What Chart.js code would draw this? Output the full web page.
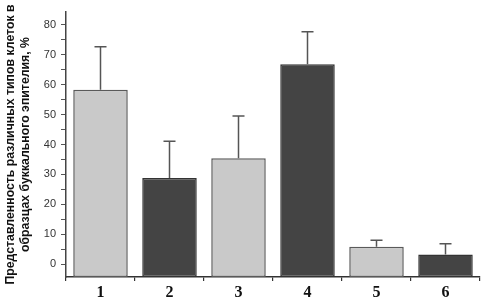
<!DOCTYPE html>
<html>
<head>
<meta charset="utf-8">
<script src="https://cdn.jsdelivr.net/npm/chart.js@4"></script>
<style>
  html, body { margin: 0; padding: 0; background: #fff; }
  #wrap { width: 483px; height: 307px; }
</style>
</head>
<body>
<div id="wrap"><canvas id="c"></canvas></div>
<script>
// data
const categories = ["1", "2", "3", "4", "5", "6"];
const values = [58.3, 28.8, 35.4, 66.8, 5.8, 3.2];
const errors = [14.4, 12.3, 14.1, 10.9, 2.2, 3.6];
const yTicks = [0, 5, 10, 15, 20, 25, 30, 35, 40, 45, 50, 55, 60, 65, 70, 75, 80];
const yTitle = ["Представленность различных типов клеток в", "образцах буккального эпителия, %"];

const Y_MIN = -4.3, Y_MAX = 84.3;
const LIGHT = "#c9c9c9", DARK = "#444444";

// upward whiskers with a cap
const errorBars = {
  id: "errorBars",
  afterDatasetsDraw(chart) {
    const ctx = chart.ctx;
    const y = chart.scales.y;
    const meta = chart.getDatasetMeta(0);
    ctx.save();
    ctx.strokeStyle = "#555";
    ctx.lineWidth = 1.5;
    meta.data.forEach((bar, i) => {
      const top = y.getPixelForValue(values[i] + errors[i]);
      const base = y.getPixelForValue(values[i]);
      ctx.beginPath();
      ctx.moveTo(bar.x, base);
      ctx.lineTo(bar.x, top);
      ctx.moveTo(bar.x - 6, top);
      ctx.lineTo(bar.x + 6, top);
      ctx.stroke();
    });
    ctx.restore();
  }
};

new Chart(document.getElementById("c"), {
  type: "bar",
  data: {
    labels: categories,
    datasets: [{
      data: values,
      base: Y_MIN,
      backgroundColor: categories.map((_, i) => i % 2 === 0 ? LIGHT : DARK),
      borderColor: categories.map((_, i) => i % 2 === 0 ? "#5a5a5a" : "#333"),
      borderWidth: 1.5,
      borderSkipped: false,
      categoryPercentage: 0.79,
      barPercentage: 1
    }]
  },
  options: {
    responsive: true,
    maintainAspectRatio: false,
    animation: false,
    layout: { padding: { top: 12, right: 3, left: 3, bottom: 0 } },
    plugins: { legend: { display: false }, tooltip: { enabled: false } },
    scales: {
      x: {
        offset: true,
        grid: { offset: true, drawOnChartArea: false, tickLength: 4, color: "#333", lineWidth: 1.2 },
        border: { display: true, color: "#333", width: 1.5 },
        ticks: { color: "#111", padding: 2, font: { family: "Liberation Serif", size: 16, weight: "bold" } },
        afterFit(s) { s.height = 30; }
      },
      y: {
        min: Y_MIN,
        max: Y_MAX,
        afterBuildTicks(s) { s.ticks = yTicks.map(v => ({ value: v })); },
        grid: { drawOnChartArea: false, tickLength: 5, color: "#555", lineWidth: 1 },
        border: { display: true, color: "#444", width: 1.5 },
        ticks: {
          color: "#333",
          padding: 5,
          autoSkip: false,
          font: { family: "Liberation Sans", size: 11 },
          callback: v => v % 10 === 0 ? v : ""
        },
        title: {
          display: true,
          text: yTitle,
          color: "#111",
          padding: 0,
          font: { family: "Liberation Sans", size: 12.3, weight: "bold", lineHeight: 1.25 }
        },
        afterFit(s) { s.width = 63; }
      }
    }
  },
  plugins: [errorBars]
});
</script>
</body>
</html>
